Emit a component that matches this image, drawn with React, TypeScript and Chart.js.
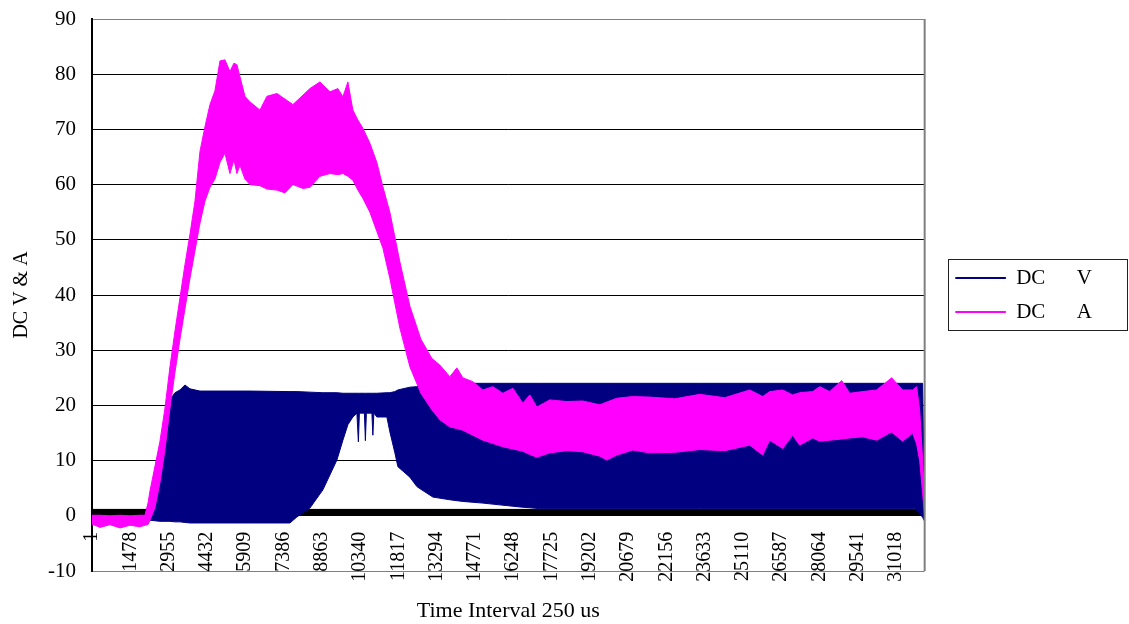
import React, { useEffect, useRef } from 'react';
import { Chart, registerables } from 'chart.js';

Chart.register(...registerables);

// ---------- data (sample index on x, value on y) ----------
const X_TICKS = [1, 1478, 2955, 4432, 5909, 7386, 8863, 10340, 11817, 13294, 14771,
  16248, 17725, 19202, 20679, 22156, 23633, 25110, 26587, 28064, 29541, 31018];
const X_MIN = 1;
const X_MAX = 32125;
const Y_MIN = -10;
const Y_MAX = 90;
const Y_STEP = 10;

// DC A : upper and lower envelope of the oscillating trace
const A_X = [
  1, 310, 695, 1081, 1466, 1852, 2045, 2161, 2238, 2431,
  2623, 2816, 3009, 3202, 3395, 3587, 3780, 3973, 4166, 4359,
  4552, 4744, 4937, 5130, 5323, 5477, 5593, 5708, 5901, 6094,
  6480, 6750, 7135, 7444, 7752, 8138, 8408, 8794, 9179, 9488,
  9681, 9873, 10066, 10259, 10452, 10722, 10992, 11223, 11493, 11879,
  12264, 12689, 13113, 13421, 13807, 14077, 14308, 14694, 15080, 15465,
  15851, 16236, 16622, 16892, 17162, 17663, 18319, 18936, 19592, 19861,
  20247, 20864, 21520, 22484, 23448, 24412, 25376, 25877, 26147, 26649,
  27034, 27304, 27806, 28076, 28461, 28924, 29232, 29734, 30274, 30852,
  31276, 31662, 31816, 31932, 32047, 32125,
];
const A_HIGH = [
  0.1, 0.1, 0.0, 0.1, 0.0, 0.1, 0.1, 2.3, 4.5, 9.0,
  13.5, 19.5, 27, 33.5, 39.5, 45.5, 51, 57, 66, 70.5,
  74.5, 77, 82.4, 82.6, 80.5, 82, 81.7, 79.6, 76, 75,
  73.5, 76, 76.5, 75.5, 74.5, 76.2, 77.4, 78.6, 76.8, 77.4,
  75.9, 78.6, 73.5, 71.7, 70.2, 67.5, 64, 59.6, 55, 46,
  38, 32, 28.5, 27.3, 25.2, 26.8, 25, 24.3, 22.8, 23.4,
  22.2, 23.1, 20.4, 21.9, 19.7, 21, 20.7, 20.8, 20.1, 20.6,
  21.3, 21.6, 21.5, 21.2, 22, 21.4, 22.8, 21.6, 22.5, 22.8,
  21.9, 22.3, 22.5, 23.4, 22.5, 24.5, 22.2, 22.5, 22.8, 25,
  22.8, 22.8, 23.4, 19.2, 10.1, 2.9,
];
const A_LOW = [
  -1.5, -2.1, -1.6, -2.2, -1.7, -2.0, -1.7, -1.6, -0.8, 1.5,
  6, 12, 19.5, 26, 32, 37.5, 43, 48, 53, 57,
  59.5, 61, 64, 65.7, 62, 64.5, 62, 63.5, 61, 60,
  59.8, 59.2, 59, 58.5, 60, 59.3, 59.5, 61.5, 62, 61.8,
  62, 61.5, 60.8, 59, 57.5, 55, 51.5, 48.5, 43, 34,
  27, 22.2, 19.2, 17.4, 16.1, 15.8, 15.5, 14.6, 13.7, 13.1,
  12.5, 12.1, 11.7, 11.1, 10.6, 11.4, 11.8, 11.6, 10.8, 10.1,
  11, 11.9, 11.4, 11.5, 12, 11.8, 12.8, 11, 13.7, 12.2,
  14.6, 12.8, 14.1, 13.5, 13.7, 13.9, 14.1, 14.3, 13.7, 15.2,
  13.5, 15, 13, 10, 4, -0.2,
];

// DC V : upper and lower envelope of the oscillating trace
const V_X = [
  2045, 2238, 2431, 2623, 2816, 3009, 3202, 3395, 3587, 3780,
  4166, 6094, 7637, 7907, 8408, 8909, 9449, 9681, 9873, 10066,
  10220, 10278, 10317, 10510, 10548, 10587, 10799, 10837, 10876, 10992,
  11377, 11493, 11686, 11802, 12264, 12534, 12689, 13151, 13807, 14308,
  15080, 16506, 17278, 23448, 31739, 31932, 32047, 32125,
];
const V_HIGH = [
  0, 3, 8.3, 12.5, 16.5, 21, 22.3, 22.8, 23.7, 23.0,
  22.6, 22.6, 22.5, 22.5, 22.4, 22.3, 22.3, 22.2, 22.2, 22.2,
  22.2, 22.2, 22.2, 22.2, 22.2, 22.2, 22.2, 22.2, 22.2, 22.2,
  22.3, 22.3, 22.5, 22.8, 23.3, 23.4, 23.5, 23.6, 23.8, 24.0,
  24.0, 24.0, 24.0, 24.0, 24.0, 24.0, 24.0, 1.0,
];
const V_LOW = [
  0, -0.8, -0.9, -1.0, -1.0, -1.0, -1.1, -1.1, -1.2, -1.3,
  -1.3, -1.3, -1.3, -0.2, 1.4, 4.7, 10.1, 13.7, 16.5, 17.9,
  18.6, 13.4, 18.6, 18.6, 13.6, 18.6, 18.6, 14.6, 18.6, 17.9,
  17.9, 15.2, 11.4, 8.9, 7.0, 5.3, 4.8, 3.4, 2.9, 2.6,
  2.3, 1.6, 1.3, 1.3, 1.3, 0.5, -0.3, -1.0,
];

// dense black band along the zero line (category-axis ticks)
const AXIS_BAND = [0, 1.25];

const SERIES_V = 'DC      V';
const SERIES_A = 'DC      A';
const X_TITLE = 'Time Interval 250 us';
const Y_TITLE = 'DC V & A';

// ---------- style ----------
const NAVY = '#000080';
const MAGENTA = '#FF00FF';
const FONT = "'Liberation Serif', 'Times New Roman', serif";

const toPts = (xs: number[], ys: number[]) => xs.map((x, i) => ({ x, y: ys[i] }));

export default function App() {
  const ref = useRef<HTMLCanvasElement | null>(null);

  useEffect(() => {
    const canvas = ref.current;
    if (!canvas) return;

    const framePlugin = {
      id: 'frameAndBand',
      beforeDatasetsDraw(chart: any) {
        const { ctx, chartArea, scales } = chart;
        const y0 = scales.y.getPixelForValue(AXIS_BAND[0]);
        const y1 = scales.y.getPixelForValue(AXIS_BAND[1]);
        ctx.save();
        ctx.fillStyle = '#000';
        ctx.fillRect(chartArea.left, y1, chartArea.right - chartArea.left, y0 - y1);
        ctx.restore();
      },
      afterDraw(chart: any) {
        const { ctx, chartArea } = chart;
        ctx.save();
        ctx.strokeStyle = '#808080';
        ctx.lineWidth = 2;
        ctx.beginPath();
        ctx.moveTo(chartArea.right, chartArea.top);
        ctx.lineTo(chartArea.right, chartArea.bottom);
        ctx.stroke();
        const hb = chart.legend && chart.legend.legendHitBoxes;
        if (hb && hb.length) {
          const first = hb[0];
          const last = hb[hb.length - 1];
          const l = Math.round(first.left - 8) + 0.5;
          const t = Math.round(first.top - 9) + 0.5;
          const b = Math.round(last.top + last.height + 7) + 0.5;
          const r = chart.width - 1.5;
          ctx.strokeStyle = '#222';
          ctx.lineWidth = 1;
          ctx.strokeRect(l, t, r - l, b - t);
        }
        ctx.restore();
      },
    };

    const common = { borderWidth: 1, pointRadius: 0, tension: 0, xAxisID: 'x', yAxisID: 'y' };

    const chart = new Chart(canvas, {
      type: 'line',
      data: {
        datasets: [
          { ...common, label: '', data: toPts(A_X, A_LOW), borderColor: MAGENTA, backgroundColor: MAGENTA, fill: false },
          { ...common, label: SERIES_A, data: toPts(A_X, A_HIGH), borderColor: MAGENTA, backgroundColor: MAGENTA, fill: '-1' },
          { ...common, label: '', data: toPts(V_X, V_LOW), borderColor: NAVY, backgroundColor: NAVY, fill: false },
          { ...common, label: SERIES_V, data: toPts(V_X, V_HIGH), borderColor: NAVY, backgroundColor: NAVY, fill: '-1' },
        ],
      } as any,
      options: {
        responsive: true,
        maintainAspectRatio: false,
        animation: false,
        events: [],
        layout: { padding: { left: 0, top: 19, right: 27, bottom: 53 } },
        scales: {
          x: {
            type: 'linear',
            position: { y: 0 } as any,
            min: X_MIN,
            max: X_MAX,
            afterBuildTicks: (s: any) => {
              s.ticks = X_TICKS.map((v) => ({ value: v }));
            },
            ticks: {
              autoSkip: false,
              maxRotation: 90,
              minRotation: 90,
              padding: 16,
              color: '#000',
              font: { family: FONT, size: 20 },
              callback: (v: any) => String(v),
            },
            grid: { display: false, drawTicks: false },
            border: { display: false },
            title: {
              display: true,
              text: X_TITLE,
              color: '#000',
              font: { family: FONT, size: 22 },
              padding: { top: 0, bottom: 0 },
            },
          },
          y: {
            type: 'linear',
            position: 'left',
            min: Y_MIN,
            max: Y_MAX,
            ticks: { stepSize: Y_STEP, padding: 0, color: '#000', font: { family: FONT, size: 21 } },
            grid: {
              color: (c: any) => (c.tick && (c.tick.value === Y_MAX || c.tick.value === Y_MIN) ? '#808080' : '#000'),
              lineWidth: 1,
              drawTicks: true,
              tickLength: 16,
              tickColor: 'rgba(0,0,0,0)',
            },
            border: { color: '#000', width: 2 },
            title: {
              display: true,
              text: Y_TITLE,
              color: '#000',
              font: { family: FONT, size: 20 },
              padding: { top: 10, bottom: 0 },
            },
            afterFit: (s: any) => {
              s.width = 92;
            },
          },
          spacer: {
            type: 'linear',
            position: 'right',
            display: true,
            grid: { display: false, drawTicks: false },
            border: { display: false },
            ticks: { display: false },
            afterFit: (s: any) => {
              s.width = 18;
            },
          },
        } as any,
        plugins: {
          legend: {
            display: true,
            position: 'right',
            align: 'center',
            labels: {
              boxWidth: 50,
              boxHeight: 1,
              padding: 13,
              color: '#000',
              font: { family: FONT, size: 21 },
              filter: (item: any) => !!item.text,
              sort: (a: any, b: any) => b.datasetIndex - a.datasetIndex,
            },
          },
          tooltip: { enabled: false },
          title: { display: false },
        },
      } as any,
      plugins: [framePlugin],
    });

    return () => {
      chart.destroy();
    };
  }, []);

  return (
    <div style={{ position: 'fixed', left: 0, top: 0, width: 1129, height: 624, background: '#fff' }}>
      <canvas ref={ref} />
    </div>
  );
}
